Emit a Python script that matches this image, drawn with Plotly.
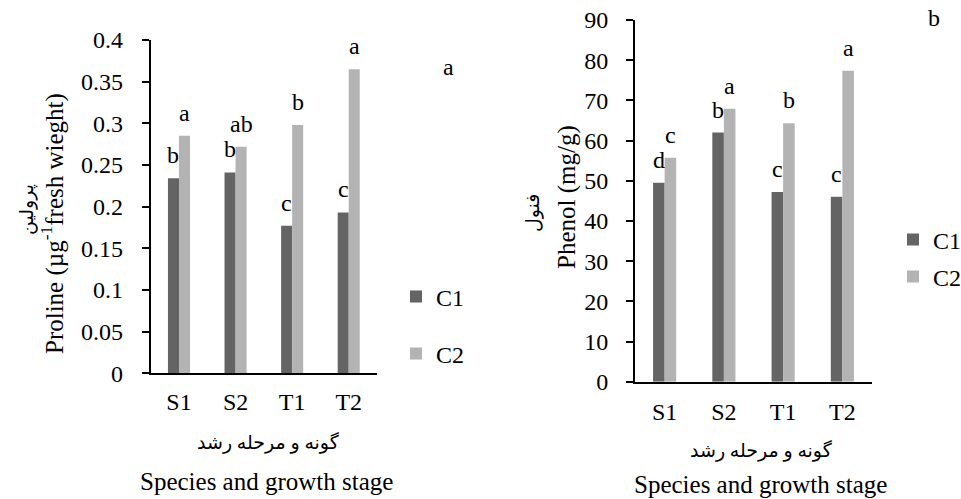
import plotly.graph_objects as go

categories = ["S1", "S2", "T1", "T2"]
proline_c1 = [0.234, 0.241, 0.177, 0.193]
proline_c2 = [0.285, 0.272, 0.298, 0.365]
proline_c1_letters = ["b", "b", "c", "c"]
proline_c2_letters = ["a", "ab", "b", "a"]
phenol_c1 = [49.5, 62.0, 47.2, 46.0]
phenol_c2 = [55.7, 67.9, 64.3, 77.4]
phenol_c1_letters = ["d", "b", "c", "c"]
phenol_c2_letters = ["c", "a", "b", "a"]
proline_ticks = [0, 0.05, 0.1, 0.15, 0.2, 0.25, 0.3, 0.35, 0.4]
proline_ticktext = ["0", "0.05", "0.1", "0.15", "0.2", "0.25", "0.3", "0.35", "0.4"]
phenol_ticks = [0, 10, 20, 30, 40, 50, 60, 70, 80, 90]

W, H = 961, 499
C1_COLOR = "#646464"
C2_COLOR = "#b3b3b3"
FONT = "Liberation Serif"
FA_FONT = "Liberation Serif, DejaVu Serif, DejaVu Sans"
TICK_SIZE = 24
TITLE_SIZE = 25


def px(x):
    return x / W


def py(y):
    return 1 - y / H


fig = go.Figure()
fig.add_trace(go.Bar(x=categories, y=proline_c1, name="C1", marker_color=C1_COLOR,
                     marker_line_width=0, xaxis="x", yaxis="y", legend="legend"))
fig.add_trace(go.Bar(x=categories, y=proline_c2, name="C2", marker_color=C2_COLOR,
                     marker_line_width=0, xaxis="x", yaxis="y", legend="legend2"))
fig.add_trace(go.Bar(x=categories, y=phenol_c1, name="C1", marker_color=C1_COLOR,
                     marker_line_width=0, xaxis="x2", yaxis="y2", legend="legend3"))
fig.add_trace(go.Bar(x=categories, y=phenol_c2, name="C2", marker_color=C2_COLOR,
                     marker_line_width=0, xaxis="x2", yaxis="y2", legend="legend4"))

annotations = []
for xref, yref, vals1, vals2, l1, l2, shift in [
    ("x", "y", proline_c1, proline_c2, proline_c1_letters, proline_c2_letters, 5.6),
    ("x2", "y2", phenol_c1, phenol_c2, phenol_c1_letters, phenol_c2_letters, 5.9),
]:
    for cat, v, t in zip(categories, vals1, l1):
        annotations.append(dict(x=cat, y=v, xref=xref, yref=yref, text=t, showarrow=False,
                                xshift=-shift, yshift=23, yanchor="middle",
                                font=dict(family=FONT, size=TICK_SIZE, color="black")))
    for cat, v, t in zip(categories, vals2, l2):
        annotations.append(dict(x=cat, y=v, xref=xref, yref=yref, text=t, showarrow=False,
                                xshift=shift, yshift=23, yanchor="middle",
                                font=dict(family=FONT, size=TICK_SIZE, color="black")))

# panel letters
annotations.append(dict(x=px(448), y=py(67), xref="paper", yref="paper", text="a", showarrow=False,
                        xanchor="center", yanchor="middle", font=dict(family=FONT, size=TICK_SIZE, color="black")))
annotations.append(dict(x=px(934), y=py(18), xref="paper", yref="paper", text="b", showarrow=False,
                        xanchor="center", yanchor="middle", font=dict(family=FONT, size=TICK_SIZE, color="black")))

# y titles
annotations += [
    dict(x=px(27), y=py(210), xref="paper", yref="paper", text="پرولین", textangle=-90, showarrow=False,
         xanchor="center", yanchor="middle", font=dict(family=FA_FONT, size=19, color="black")),
    dict(x=px(52), y=py(224), xref="paper", yref="paper", text="Proline (µg<sup>-1</sup>fresh wieght)",
         textangle=-90, showarrow=False, xanchor="center", yanchor="middle",
         font=dict(family=FONT, size=TITLE_SIZE, color="black")),
    dict(x=px(533), y=py(213), xref="paper", yref="paper", text="فنول", textangle=-90, showarrow=False,
         xanchor="center", yanchor="middle", font=dict(family=FA_FONT, size=19, color="black")),
    dict(x=px(567), y=py(197), xref="paper", yref="paper", text="Phenol (mg/g)", textangle=-90,
         showarrow=False, xanchor="center", yanchor="middle",
         font=dict(family=FONT, size=TITLE_SIZE, color="black")),
]
# x titles
annotations += [
    dict(x=px(268), y=py(442), xref="paper", yref="paper", text="گونه و مرحله رشد", showarrow=False,
         xanchor="center", yanchor="middle", font=dict(family=FA_FONT, size=19, color="black")),
    dict(x=px(266), y=py(481), xref="paper", yref="paper", text="Species and growth stage", showarrow=False,
         xanchor="center", yanchor="middle", font=dict(family=FONT, size=TITLE_SIZE, color="black")),
    dict(x=px(761), y=py(450), xref="paper", yref="paper", text="گونه و مرحله رشد", showarrow=False,
         xanchor="center", yanchor="middle", font=dict(family=FA_FONT, size=19, color="black")),
    dict(x=px(760), y=py(484), xref="paper", yref="paper", text="Species and growth stage", showarrow=False,
         xanchor="center", yanchor="middle", font=dict(family=FONT, size=TITLE_SIZE, color="black")),
]

axis_common = dict(showgrid=False, zeroline=False, showline=True, linecolor="black", linewidth=2,
                   automargin=False, tickfont=dict(family=FONT, size=TICK_SIZE, color="black"))

legend_common = dict(font=dict(family=FONT, size=TICK_SIZE, color="black"), bgcolor="rgba(0,0,0,0)",
                     yanchor="middle", itemwidth=30)

fig.update_layout(
    width=W, height=H,
    margin=dict(l=0, r=0, t=0, b=0, autoexpand=False),
    paper_bgcolor="white", plot_bgcolor="white",
    barmode="group", bargap=0.61, bargroupgap=0,
    showlegend=True,
    xaxis=dict(domain=[px(150.7), px(377)], anchor="y", range=[-0.5, 3.5], ticks="", ticklabelstandoff=6,
               **axis_common),
    yaxis=dict(domain=[py(373.3), py(40)], anchor="x", range=[0, 0.4], tickvals=proline_ticks,
               ticktext=proline_ticktext, ticks="outside", ticklen=7, tickwidth=2, tickcolor="black",
               ticklabelstandoff=14, **axis_common),
    xaxis2=dict(domain=[px(635), px(872)], anchor="y2", range=[-0.5, 3.5], ticks="", ticklabelstandoff=7,
                **axis_common),
    yaxis2=dict(domain=[py(381.7), py(20)], anchor="x2", range=[0, 90], tickvals=phenol_ticks,
                ticks="outside", ticklen=7, tickwidth=2, tickcolor="black", ticklabelstandoff=13,
                **axis_common),
    legend=dict(x=px(396), y=py(297), xanchor="left", **legend_common),
    legend2=dict(x=px(396), y=py(354), xanchor="left", **legend_common),
    legend3=dict(x=px(893), y=py(240), xanchor="left", **legend_common),
    legend4=dict(x=px(893), y=py(277), xanchor="left", **legend_common),
    annotations=annotations,
)

fig.write_html(
    "out.html",
    config={"displayModeBar": False},
    post_script="document.body.style.margin='0';document.body.style.overflow='hidden';",
)
